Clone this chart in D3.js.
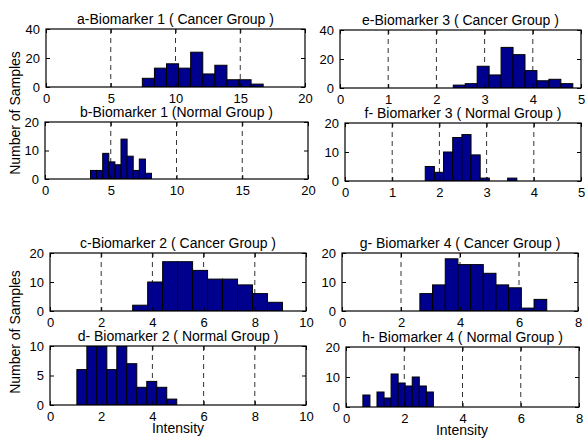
<!DOCTYPE html>
<html>
<head>
<meta charset="utf-8">
<script src="https://cdn.jsdelivr.net/npm/d3@7"></script>
<style>
  body { margin: 0; background: #fff; }
  svg { font-family: "Liberation Sans", Arial, sans-serif; }
</style>
</head>
<body>
<div id="chart"></div>
<script>
// histogram panels (10 bins each)
var titles = [
    'a-Biomarker 1 ( Cancer Group )',
    'b-Biomarker 1 (Normal Group )',
    'e-Biomarker 3 ( Cancer Group )',
    'f- Biomarker 3 ( Normal Group )',
    'c-Biomarker 2 ( Cancer Group )',
    'd- Biomarker 2 ( Normal Group )',
    'g- Biomarker 4 ( Cancer Group )',
    'h- Biomarker 4 ( Normal Group )'
];
var xDomains = [[0, 20], [0, 20], [0, 5], [0, 5], [0, 10], [0, 10], [0, 8], [0, 8]];
var yDomains = [[0, 40], [0, 20], [0, 40], [0, 20], [0, 20], [0, 10], [0, 20], [0, 20]];
var xTickVals = [
    [0, 5, 10, 15, 20], [0, 5, 10, 15, 20],
    [0, 1, 2, 3, 4, 5], [0, 1, 2, 3, 4, 5],
    [0, 2, 4, 6, 8, 10], [0, 2, 4, 6, 8, 10],
    [0, 2, 4, 6, 8], [0, 2, 4, 6, 8]
];
var yTickVals = [[0, 20, 40], [0, 10, 20], [0, 20, 40], [0, 10, 20], [0, 10, 20], [0, 5, 10], [0, 10, 20], [0, 10, 20]];
// range covered by the bins [min, max]
var binRanges = [[7.44, 16.77], [3.46, 8.1], [2.35, 4.83], [1.70, 3.64], [3.23, 9.08], [1.05, 4.95], [2.64, 6.94], [0.58, 3.0]];
var counts = [
    [6, 13, 16, 13, 24, 9, 15, 5, 5, 2],
    [3, 3, 9, 6, 5, 14, 8, 3, 7, 2],
    [2, 3, 15, 9, 28, 23, 12, 5, 6, 3],
    [5, 3, 10, 15, 16, 9, 1, 0, 0, 1],
    [2, 10, 17, 17, 14, 11, 11, 9, 6, 3],
    [6, 10, 10, 6, 10, 7, 3, 4, 3, 1],
    [6, 9, 18, 16, 16, 13, 9, 8, 1, 4],
    [4, 0, 5, 3, 11, 8, 7, 10, 7, 5]
];
// axes boxes [left, top, right, bottom]
var boxes = [
    [46, 29, 305, 87], [45, 122, 308, 179],
    [340, 30, 581, 88], [345, 123, 581, 181],
    [50, 253, 306, 311], [50, 346, 306, 405],
    [342, 253, 578, 311], [346, 347, 579, 407]
];

var svg = d3.select("#chart").append("svg")
    .attr("width", 586)
    .attr("height", 438);

var barColor = '#00008f';
var fmt = d3.format("~g");

titles.forEach(function (title, i) {
    var b = boxes[i];
    var x = d3.scaleLinear().domain(xDomains[i]).range([b[0], b[2]]);
    var y = d3.scaleLinear().domain(yDomains[i]).range([b[3], b[1]]);
    var g = svg.append("g");

    g.append("clipPath").attr("id", "clip" + i)
        .append("rect")
        .attr("x", b[0]).attr("y", b[1])
        .attr("width", b[2] - b[0]).attr("height", b[3] - b[1]);

    // dashed x grid
    g.selectAll(".grid")
        .data(xTickVals[i].slice(1, -1))
        .enter().append("line")
        .attr("x1", d => x(d)).attr("x2", d => x(d))
        .attr("y1", b[1]).attr("y2", b[3])
        .attr("stroke", "#333")
        .attr("stroke-width", 1)
        .attr("stroke-dasharray", "5,4");

    // bars
    var r = binRanges[i], n = counts[i].length, w = (r[1] - r[0]) / n;
    var bins = counts[i].map((c, k) => ({x0: r[0] + k * w, x1: r[0] + (k + 1) * w, c: c}));
    g.append("g").attr("clip-path", "url(#clip" + i + ")")
        .selectAll("rect")
        .data(bins)
        .enter().append("rect")
        .attr("x", d => x(d.x0))
        .attr("width", d => x(d.x1) - x(d.x0))
        .attr("y", d => y(d.c))
        .attr("height", d => y(0) - y(d.c))
        .attr("fill", barColor)
        .attr("stroke", "#000")
        .attr("stroke-width", 1);

    // inner ticks, mirrored on all four sides
    var xAxisB = d3.axisBottom(x).tickValues(xTickVals[i]).tickFormat(fmt).tickSizeInner(-4).tickSizeOuter(0).tickPadding(7);
    var xAxisT = d3.axisTop(x).tickValues(xTickVals[i]).tickSizeInner(-4).tickSizeOuter(0).tickFormat("");
    var yAxisL = d3.axisLeft(y).tickValues(yTickVals[i]).tickFormat(fmt).tickSizeInner(-4).tickSizeOuter(0).tickPadding(6);
    var yAxisR = d3.axisRight(y).tickValues(yTickVals[i]).tickSizeInner(-4).tickSizeOuter(0).tickFormat("");

    [
        g.append("g").attr("transform", "translate(0," + b[3] + ")").call(xAxisB),
        g.append("g").attr("transform", "translate(0," + b[1] + ")").call(xAxisT),
        g.append("g").attr("transform", "translate(" + b[0] + ",0)").call(yAxisL),
        g.append("g").attr("transform", "translate(" + b[2] + ",0)").call(yAxisR)
    ].forEach(function (ax) {
        ax.select(".domain").remove();
        ax.selectAll("line").attr("stroke", "#000");
        ax.selectAll("text").attr("fill", "#000").style("font-size", "13px").style("font-family", null);
    });

    // box
    g.append("rect")
        .attr("x", b[0]).attr("y", b[1])
        .attr("width", b[2] - b[0]).attr("height", b[3] - b[1])
        .attr("fill", "none")
        .attr("stroke", "#000")
        .attr("stroke-width", 1.2);

    g.append("text")
        .attr("x", (b[0] + b[2]) / 2)
        .attr("y", b[1] - 5)
        .attr("text-anchor", "middle")
        .style("font-size", "14px")
        .text(title);
});

// y labels
[[15, 113], [15, 332]].forEach(function (p) {
    svg.append("text")
        .attr("transform", "translate(" + p[0] + "," + p[1] + ") rotate(-90)")
        .attr("text-anchor", "middle")
        .attr("dy", "0.35em")
        .style("font-size", "14px")
        .text("Number of Samples");
});

// x labels
[[178, 433], [462, 434.5]].forEach(function (p) {
    svg.append("text")
        .attr("x", p[0]).attr("y", p[1])
        .attr("text-anchor", "middle")
        .style("font-size", "14px")
        .text("Intensity");
});
</script>
</body>
</html>
